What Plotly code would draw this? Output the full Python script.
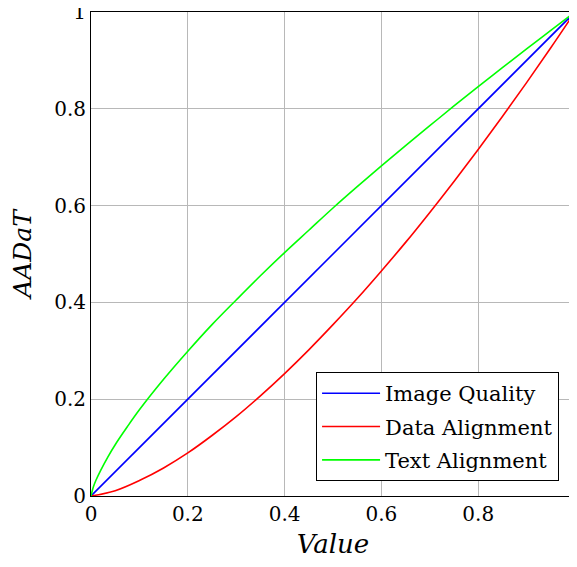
import plotly.graph_objects as go

# Values
x_blue = [0.0, 1.0]
y_blue = [0.0, 1.0]

x_red = [0.0, 0.05, 0.1, 0.15, 0.2, 0.25, 0.3, 0.35, 0.4, 0.45, 0.5,
         0.55, 0.6, 0.65, 0.7, 0.75, 0.8, 0.85, 0.9, 0.95, 1.0]
y_red = [0.0, 0.011, 0.032, 0.058, 0.089, 0.125, 0.164, 0.207, 0.253, 0.302, 0.354,
         0.408, 0.465, 0.524, 0.586, 0.650, 0.716, 0.784, 0.854, 0.926, 1.0]

x_green = [0.0, 0.005, 0.01, 0.02, 0.035, 0.05, 0.075, 0.1, 0.15, 0.2, 0.25, 0.3, 0.35, 0.4,
           0.45, 0.5, 0.55, 0.6, 0.65, 0.7, 0.75, 0.8, 0.85, 0.9, 0.95, 1.0]
y_green = [0.0, 0.019, 0.032, 0.053, 0.081, 0.106, 0.143, 0.178, 0.241, 0.299, 0.354, 0.405,
           0.455, 0.503, 0.549, 0.595, 0.639, 0.682, 0.724, 0.765, 0.806, 0.846, 0.885,
           0.924, 0.962, 1.0]

tick_vals = [0.0, 0.2, 0.4, 0.6, 0.8, 1.0]
tick_text = ["0", "0.2", "0.4", "0.6", "0.8", "1"]

FONT = "DejaVu Serif"

fig = go.Figure()
fig.add_trace(go.Scatter(x=x_blue, y=y_blue, mode="lines", name="Image Quality",
                         legendgroup="a", line=dict(color="#0000ff", width=1.6)))
fig.add_trace(go.Scatter(x=x_red, y=y_red, mode="lines", name="Data Alignment",
                         legendgroup="b", line=dict(color="#ff0000", width=1.6, shape="spline")))
fig.add_trace(go.Scatter(x=x_green, y=y_green, mode="lines", name="Text Alignment",
                         legendgroup="c", line=dict(color="#00ff00", width=1.6, shape="spline")))

axis_common = dict(
    range=[0, 1], tickvals=tick_vals, ticktext=tick_text,
    showgrid=True, gridcolor="#b8b8b8", gridwidth=1,
    showline=True, linecolor="black", linewidth=1, mirror=True,
    ticks="", zeroline=False, automargin=False, ticklabeloverflow="allow",
    tickfont=dict(family=FONT, size=20, color="black"),
)

# page body adds an 8px margin, so the figure is offset by 8px
fig.update_layout(
    width=569, height=551,
    margin=dict(l=83, r=2, t=4, b=63),
    paper_bgcolor="white", plot_bgcolor="white",
    font=dict(family=FONT, color="black"),
    xaxis=dict(**axis_common,
               title=dict(text="<i>Value</i>", font=dict(family=FONT, size=26), standoff=24)),
    yaxis=dict(**axis_common,
               title=dict(text="<i>AADaT</i>", font=dict(family=FONT, size=25), standoff=17)),
    legend=dict(x=0.465, y=0.256, xanchor="left", yanchor="top",
                traceorder="grouped", tracegroupgap=3, itemwidth=58,
                bordercolor="black", borderwidth=1, bgcolor="white",
                font=dict(family=FONT, size=21, color="black")),
)

fig.write_html("out.html")
